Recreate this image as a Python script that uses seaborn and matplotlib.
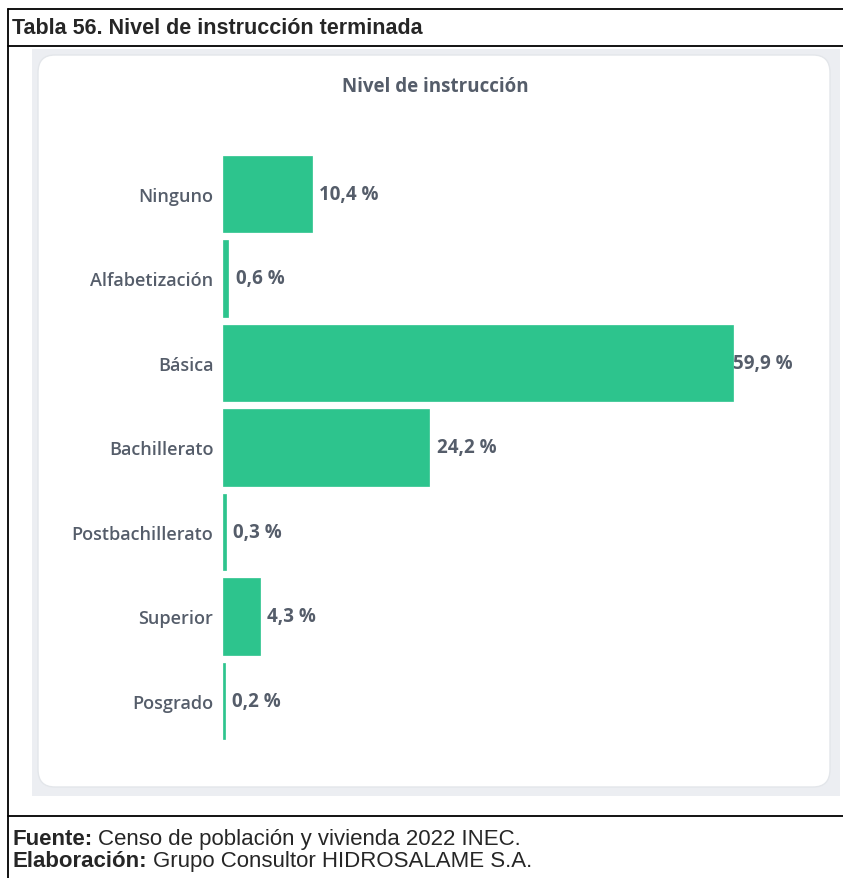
import matplotlib
matplotlib.use("Agg")
import matplotlib.pyplot as plt
from matplotlib.patches import FancyBboxPatch, Rectangle
from matplotlib.lines import Line2D
import seaborn as sns
import pandas as pd

categorias = ["Ninguno", "Alfabetización", "Básica", "Bachillerato",
              "Postbachillerato", "Superior", "Posgrado"]
porcentajes = [10.4, 0.6, 59.9, 24.2, 0.3, 4.3, 0.2]
etiquetas = ["10,4 %", "0,6 %", "59,9 %", "24,2 %", "0,3 %", "4,3 %", "0,2 %"]

W, H = 843, 879
fig = plt.figure(figsize=(W / 100, H / 100), dpi=100)
sns.set_style("white")
plt.rcParams['font.family'] = ['Open Sans', 'DejaVu Sans']
gris = "#555d6a"

def fx(x):
    return x / W

def fy(y):
    return 1 - y / H

# card background
fig.patches.append(Rectangle((fx(32), fy(797)), fx(840) - fx(32), fy(50) - fy(797),
                             transform=fig.transFigure, facecolor="#eceef2", edgecolor="none", zorder=0))
fig.patches.append(FancyBboxPatch((fx(38), fy(788)), fx(830) - fx(38), fy(56) - fy(788),
                                  boxstyle="round,pad=0,rounding_size=0.02",
                                  transform=fig.transFigure, facecolor="white",
                                  edgecolor="#e3e6ea", linewidth=1, zorder=0.5))

# table borders
for (x0, y0, x1, y1) in [(8, 10, 843, 10), (8, 47, 843, 47), (8, 817, 843, 817), (8, 10, 8, 879)]:
    fig.add_artist(Line2D([fx(x0), fx(x1)], [fy(y0), fy(y1)], transform=fig.transFigure,
                          color="black", linewidth=1.3))

fig.text(fx(12), fy(28), "Tabla 56. Nivel de instrucción terminada", family="Liberation Sans",
         fontweight="bold", fontsize=15.5, va="center", ha="left")
fig.text(fx(435), fy(87), "Nivel de instrucción", fontsize=13.5, fontweight="bold",
         color=gris, ha="center", va="center")

renderer = fig.canvas.get_renderer()
for yy, bold, normal in [(840, "Fuente:", "Censo de población y vivienda 2022 INEC."),
                         (862, "Elaboración:", "Grupo Consultor HIDROSALAME S.A.")]:
    t = fig.text(fx(13), fy(yy), bold, family="Liberation Sans", fontweight="bold",
                 fontsize=16, va="center")
    x_end = t.get_window_extent(renderer).x1
    fig.text(fx(x_end + 5), fy(yy), normal, family="Liberation Sans", fontsize=16, va="center")

df = pd.DataFrame({"nivel": categorias, "pct": porcentajes})
px_per = 510 / 59.9
ax_left, ax_right = 223, 800
top, bottom = 195 - 42.25, 702 + 42.25
ax = fig.add_axes([fx(ax_left), fy(bottom), fx(ax_right) - fx(ax_left), fy(top) - fy(bottom)])
ax.set_zorder(2)
ax.patch.set_alpha(0)
sns.barplot(data=df, x="pct", y="nivel", color="#2dc48d", saturation=1, width=0.9, ax=ax,
            edgecolor="#2dc48d", linewidth=0.5)
ax.set_xlim(0, (ax_right - ax_left) / px_per)
ax.set_ylim(6.5, -0.5)
for i, (v, t) in enumerate(zip(porcentajes, etiquetas)):
    ax.text(v + 0.9 if v < 50 else v, i, t, fontsize=13.5, fontweight="bold",
            color=gris, va="center", ha="left")
ax.set_xlabel("")
ax.set_ylabel("")
ax.set_xticks([])
ax.tick_params(axis="y", length=0, pad=7, labelsize=13, labelcolor=gris)
for lab in ax.get_yticklabels():
    lab.set_fontweight("semibold")
sns.despine(ax=ax, left=True, bottom=True)

fig.savefig("out.png", dpi=100)
